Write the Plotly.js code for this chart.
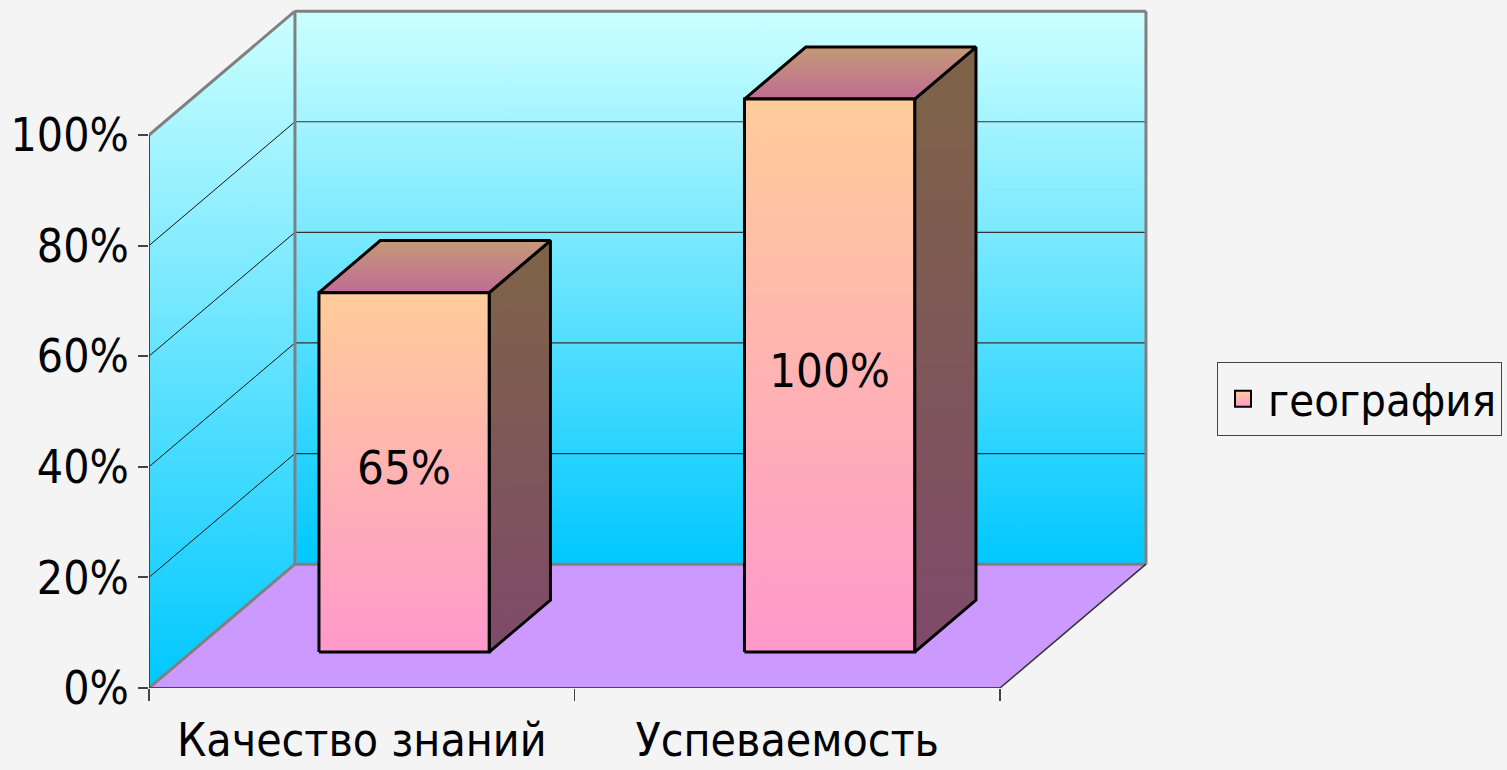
<!DOCTYPE html>
<html><head><meta charset="utf-8">
<script src="https://cdn.plot.ly/plotly-3.0.1.min.js"></script>
<style>html,body{margin:0;padding:0;background:#f4f4f4;} #chart{width:1507px;height:770px;}</style>
</head><body><div id="chart"></div>
<script>
// ---- data ----
const categories = ["Качество знаний", "Успеваемость"];
const values = [65, 100];
const seriesName = "география";
const valueLabels = ["65%", "100%"];
const yTickVals = [0, 20, 40, 60, 80, 100];
const yTickText = ["0%", "20%", "40%", "60%", "80%", "100%"];

// ---- geometry (oblique 3D projection in data units) ----
const DX = 0.343, DY = 22.4;       // full depth offset
const BAR_W = 0.4, D0 = 0.29, D1 = 0.71;
const VMAX = 100;
const NCAT = categories.length;
function P(x, v, d) { return [x + d * DX, v + d * DY]; }

const FONT = "DejaVu Sans Condensed, DejaVu Sans, sans-serif";
const traces = [];
function poly(pts, opts) {
  const xs = pts.map(p => p[0]).concat([pts[0][0]]);
  const ys = pts.map(p => p[1]).concat([pts[0][1]]);
  const t = {
    type: "scatter", mode: "lines", x: xs, y: ys, fill: "toself",
    showlegend: false, hoverinfo: "skip",
    line: opts.line || {width: 0, color: "rgba(0,0,0,0)"}
  };
  if (opts.grad) t.fillgradient = {type: "vertical", colorscale: [[0, opts.grad[0]], [1, opts.grad[1]]]};
  else t.fillcolor = opts.fill;
  traces.push(t);
}
function seg(list, color, width) {
  const xs = [], ys = [];
  list.forEach(s => { xs.push(s[0][0], s[1][0], null); ys.push(s[0][1], s[1][1], null); });
  traces.push({type: "scatter", mode: "lines", x: xs, y: ys, showlegend: false, hoverinfo: "skip",
    line: {color: color, width: width}});
}

const wallGrad = ["#00c8ff", "#ccffff"];
// left wall
poly([P(0, 0, 0), P(0, VMAX, 0), P(0, VMAX, 1), P(0, 0, 1)], {grad: wallGrad});
// back wall
poly([P(0, 0, 1), P(NCAT, 0, 1), P(NCAT, VMAX, 1), P(0, VMAX, 1)], {grad: wallGrad});
// gridlines
const inner = yTickVals.filter(v => v > 0 && v < VMAX);
seg(inner.map(v => [P(0, v, 1), P(NCAT, v, 1)]), "#333", 1.2);
seg(inner.map(v => [P(0, v, 0), P(0, v, 1)]), "#111", 1);
// floor
poly([P(0, 0, 0), P(NCAT, 0, 0), P(NCAT, 0, 1), P(0, 0, 1)], {fill: "#cc99ff"});
// wall outlines
seg([[P(0, 0, 1), P(NCAT, 0, 1)], [P(NCAT, 0, 1), P(NCAT, VMAX, 1)], [P(NCAT, VMAX, 1), P(0, VMAX, 1)],
     [P(0, VMAX, 1), P(0, 0, 1)], [P(0, VMAX, 0), P(0, VMAX, 1)], [P(0, 0, 0), P(0, 0, 1)]], "#808080", 3);
seg([[P(0, 0, 0), P(NCAT, 0, 0)]], "#4a4060", 2);
seg([[P(NCAT, 0, 0), P(NCAT, 0, 1)]], "#333", 1.5);
seg([[P(0, 0, 0), P(0, VMAX, 0)]], "#444", 2);

// bars
const edge = {color: "#000", width: 3};
values.forEach((v, i) => {
  const cx = i + 0.5, x0 = cx - BAR_W / 2, x1 = cx + BAR_W / 2;
  poly([P(x1, 0, D0), P(x1, v, D0), P(x1, v, D1), P(x1, 0, D1)], {grad: ["#7e4a6a", "#7e6446"], line: edge});
  poly([P(x0, v, D0), P(x1, v, D0), P(x1, v, D1), P(x0, v, D1)], {grad: ["#c06c94", "#c49a76"], line: edge});
  poly([P(x0, 0, D0), P(x1, 0, D0), P(x1, v, D0), P(x0, v, D0)], {grad: ["#ff99cc", "#ffcc99"], line: edge});
});
// value labels
traces.push({type: "scatter", mode: "text", showlegend: false, hoverinfo: "skip",
  x: values.map((v, i) => P(i + 0.5, v / 2, D0)[0]),
  y: values.map((v, i) => P(i + 0.5, v / 2, D0)[1]),
  text: valueLabels, textposition: "middle center",
  textfont: {family: FONT, size: 47, color: "#000"}, cliponaxis: false});
// legend entry
traces.push({type: "scatter", mode: "markers", name: seriesName, x: [null], y: [null],
  marker: {symbol: "square", size: 16, color: "#ffcc99", gradient: {type: "vertical", color: "#ff99cc"},
           line: {color: "#000", width: 2}}});

const layout = {
  width: 1507, height: 770,
  margin: {l: 149, r: 294, t: 0, b: 82, pad: 0, autoexpand: false},
  paper_bgcolor: "#f4f4f4", plot_bgcolor: "rgba(0,0,0,0)",
  hovermode: false,
  xaxis: {range: [0, 1064 / 425.5], showgrid: false, zeroline: false, showline: false, automargin: false,
    tickmode: "array", tickvals: categories.map((c, i) => i + 0.5), ticktext: categories, ticks: "",
    ticklabelstandoff: 21,
    tickfont: {family: FONT, size: 46, color: "#000"},
    minor: {tickmode: "array", tickvals: Array.from({length: NCAT + 1}, (_, i) => i), ticks: "outside",
            ticklen: 12, tickwidth: 1.5, tickcolor: "#444", showgrid: false}},
  yaxis: {range: [0, 688 / 5.53], showgrid: false, zeroline: false, showline: false, automargin: false,
    tickmode: "array", tickvals: yTickVals, ticktext: yTickText, ticks: "outside", ticklen: 10,
    tickwidth: 2, tickcolor: "#444", tickfont: {family: FONT, size: 46, color: "#000"}},
  showlegend: true,
  legend: {x: (1217 - 149) / 1064, y: (688 - 399) / 688, xanchor: "left", yanchor: "middle",
    bgcolor: "rgba(0,0,0,0)", bordercolor: "#444", borderwidth: 1, itemwidth: 40,
    font: {family: FONT, size: 45, color: "#000"}}
};
Plotly.newPlot("chart", traces, layout, {displayModeBar: false, staticPlot: true});
</script></body></html>
